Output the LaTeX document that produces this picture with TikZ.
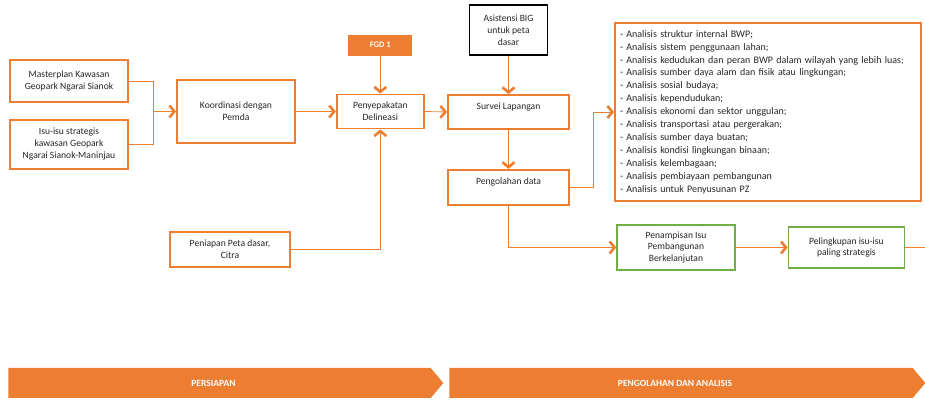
\documentclass[tikz,border=0pt]{standalone}
\usepackage{fontspec}
\setmainfont{Carlito}
\usepackage{xcolor}
\usepackage{tikz}
\usetikzlibrary{shapes,arrows,arrows.meta,positioning}

\definecolor{oranye}{HTML}{ED7D31}
\definecolor{hijau}{HTML}{70AD47}
\definecolor{teks}{HTML}{262626}

\begin{document}
\begin{tikzpicture}[
    x=1pt, y=1pt,
    font=\fontsize{9.6}{11.8}\selectfont, text=teks,
    box/.style={rectangle, draw=oranye, line width=1.8pt, fill=white, align=center, inner sep=2pt},
    greenbox/.style={box, draw=hijau, line width=1.4pt},
    upper/.style={text depth=12pt},
    arrow/.style={draw=oranye, line width=0.8pt, -{Straight Barb[length=5pt, width=12pt, line width=2.6pt]}},
    link/.style={draw=oranye, line width=0.8pt},
    phase/.style={signal, signal to=east, signal pointer angle=100, fill=oranye, draw=none,
        minimum height=30pt, text=white, font=\fontsize{9.5}{10}\selectfont\bfseries}
]
\useasboundingbox (0,0) rectangle (925,406);

% persiapan
\node[box, minimum width=118pt, minimum height=42pt] (master) at (69,325) {Masterplan Kawasan\\Geopark Ngarai Sianok};
\node[box, minimum width=118pt, minimum height=49pt, below=16pt of master] (isu) {Isu-isu strategis\\kawasan Geopark\\Ngarai Sianok-Maninjau};
\node[box, minimum width=118pt, minimum height=63pt] (koord) at (236,294.5) {Koordinasi dengan\\Pemda};
\node[box, minimum width=87pt, minimum height=34pt, right=40pt of koord] (sepakat) {Penyepakatan\\Delineasi};
\node[box, fill=oranye, text=white, minimum width=62pt, minimum height=19pt, inner sep=1pt,
    font=\fontsize{8.5}{9}\selectfont\bfseries, above=38pt of sepakat] (fgd) {FGD 1};
\node[box, minimum width=120pt, minimum height=35pt] (siap) at (230,156.5) {Peniapan Peta dasar,\\Citra};

% survei dan pengolahan
\node[box, upper, minimum width=121pt, minimum height=34pt] (survei) at (508.5,294) {Survei Lapangan};
\node[box, draw=black, line width=1.6pt, minimum width=78pt, minimum height=50pt, above=38pt of survei] (asist) {Asistensi BIG\\untuk peta\\dasar};
\node[box, upper, minimum width=121pt, minimum height=35pt, below=39pt of survei] (olah) {Pengolahan data};
\node[box, align=left, minimum width=306pt, minimum height=178pt, text width=296pt, inner sep=4pt,
    font=\fontsize{10}{12.9}\selectfont] (anal) at (768,294) {%
- Analisis struktur internal BWP;\\
- Analisis sistem penggunaan lahan;\\
- Analisis kedudukan dan peran BWP dalam wilayah yang lebih luas;\\
- Analisis sumber daya alam dan fisik atau lingkungan;\\
- Analisis sosial budaya;\\
- Analisis kependudukan;\\
- Analisis ekonomi dan sektor unggulan;\\
- Analisis transportasi atau pergerakan;\\
- Analisis sumber daya buatan;\\
- Analisis kondisi lingkungan binaan;\\
- Analisis kelembagaan;\\
- Analisis pembiayaan pembangunan\\
- Analisis untuk Penyusunan PZ};
\node[greenbox, minimum width=118pt, minimum height=45pt] (tampis) at (676,158.5) {Penampisan Isu\\Pembangunan\\Berkelanjutan};
\node[greenbox, minimum width=116pt, minimum height=41pt, right=52pt of tampis] (lingkup) {Pelingkupan isu-isu\\paling strategis};

% tahapan
\node[phase, minimum width=435pt] (tahap1) at (219.5,23) {PERSIAPAN\hspace*{12pt}};
\node[phase, minimum width=476pt] (tahap2) at (681,23) {PENGOLAHAN DAN ANALISIS\hspace*{12pt}};

\coordinate (join) at (153,294.5);
\coordinate (edge) at (925,0);

\draw[link] (master.east) -| (join);
\draw[link] (isu.east) -| (join);
\draw[arrow] (join) -- (koord.west);
\draw[arrow] (koord.east) -- (sepakat.west);
\draw[arrow] (fgd.south) -- (sepakat.north);
\draw[arrow] (siap.east) -| (sepakat.south);
\draw[arrow] (sepakat.east) -- (survei.west);
\draw[arrow] (asist.south) -- (survei.north);
\draw[arrow] (survei.south) -- (olah.north);
\draw[arrow] (olah.east) -- ++(23,0) |- (anal.west);
\draw[arrow] (olah.south) |- (tampis.west);
\draw[arrow] (tampis.east) -- (lingkup.west);
\draw[link] (lingkup.east) -- (lingkup.east -| edge);
\end{tikzpicture}
\end{document}
